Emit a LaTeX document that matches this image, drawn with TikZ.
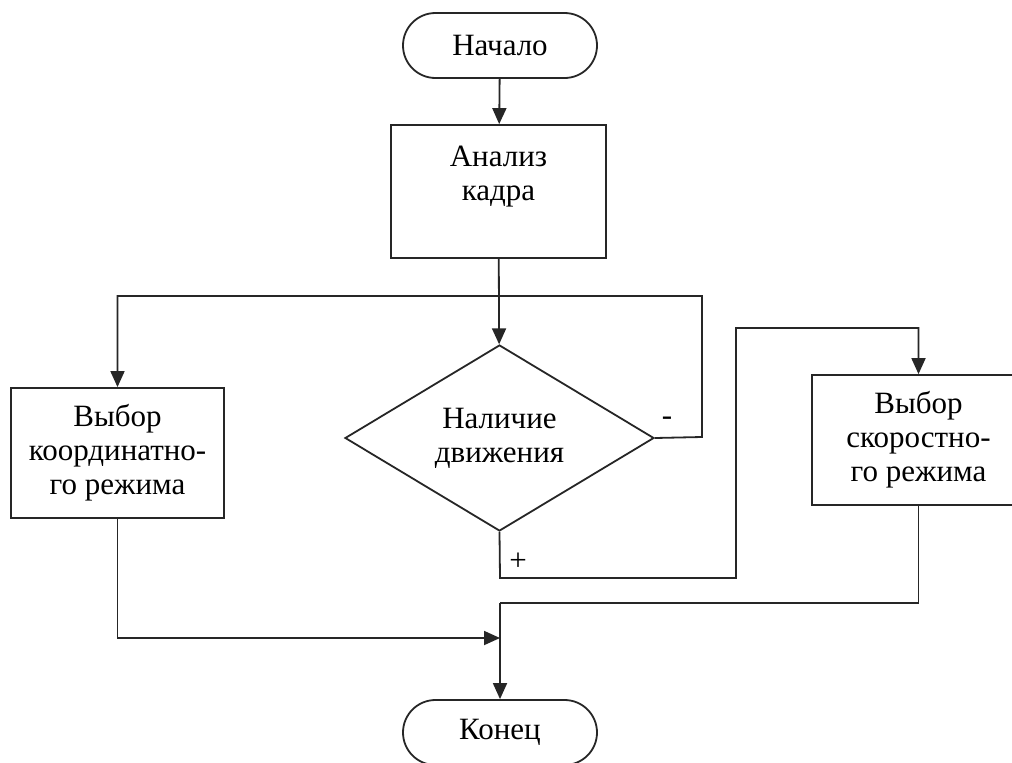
\documentclass[tikz,border=0pt]{standalone}
\usepackage{fontspec}
\setmainfont{Liberation Serif}
\usetikzlibrary{shapes.geometric,shapes.misc,arrows.meta}
\begin{document}
\begin{tikzpicture}[x=1pt,y=-1pt,
  every node/.style={font=\fontsize{31}{34}\selectfont},
  line/.style={draw=black!85,line width=1.8pt},
  arr/.style={line,-{Triangle[length=16pt,width=14pt]}},
  term/.style={line,rounded rectangle,minimum width=194pt,minimum height=65pt,inner sep=0pt},
  proc/.style={line,rectangle,minimum width=213pt,minimum height=131pt,align=center,inner sep=0pt},
  lbl/.style={inner sep=0pt}]
\useasboundingbox (0,0) rectangle (1012,763);
\begin{scope}
\clip (0,0) rectangle (1012,763);
\node[term] (start) at (500,45.5) {Начало};
\node[proc,minimum width=215pt,minimum height=133pt] (anal) at (498.5,191.5) {};
\node[align=center,inner sep=0pt] (analt) at ([yshift=15pt]anal.center) {Анализ\\кадра};
\node[line,diamond,shape aspect=1.66,minimum width=309pt,minimum height=186pt,inner sep=0pt,align=center] (dec) at (499.5,438) {Наличие\\движения};
\node[proc,minimum height=130pt] (left) at (117.5,453) {Выбор\\координатно-\\го режима};
\node[proc,minimum height=130pt] (right) at (918.5,440) {Выбор\\скоростно-\\го режима};
\node[term] (end) at (500,732.5) {Конец};
\coordinate (j2) at (500,638);
\draw[arr] (start) -- (anal);
\draw[arr] (anal) -- (dec);
\draw[arr] (dec.east) -- (702,437) -- (702,296) -- (117.5,296) -- (left.north);
\draw[arr] (dec.south) -- (500,578) -- (736,578) -- (736,328) -- (918.5,328) -- (right.north);
\draw[line] (right.south) -- (918.5,603) -- (500,603);
\draw[arr] (500,603) -- (end);
\draw[arr] (left.south) -- (117.5,638) -- (j2);
\node[lbl] (minus) at (667,421) {-};
\node[lbl] (plus) at (518,562) {+};
\end{scope}
\end{tikzpicture}
\end{document}
